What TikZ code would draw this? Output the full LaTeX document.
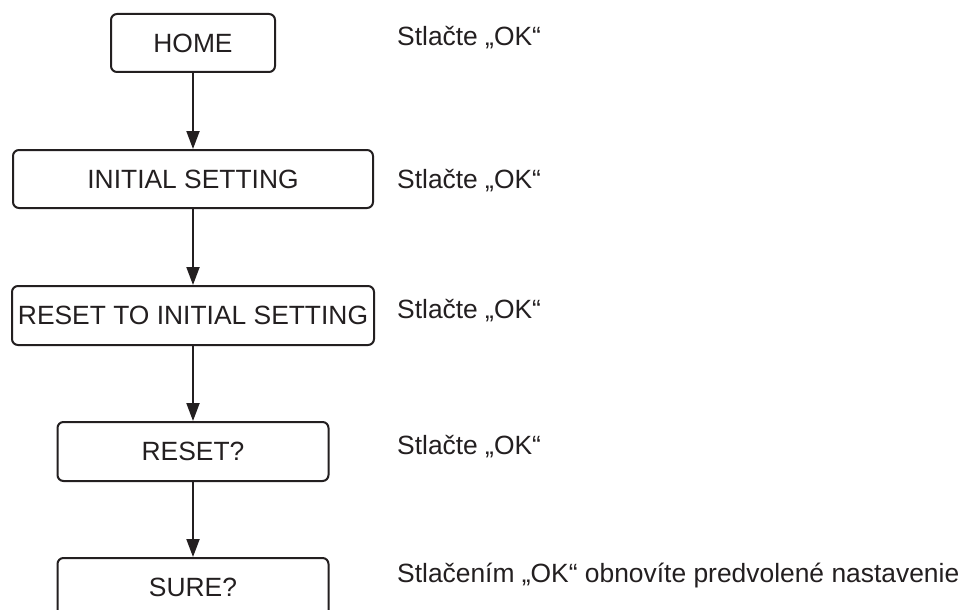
\documentclass[tikz,border=0pt]{standalone}
\usepackage{fontspec}
\setmainfont{Liberation Sans}
\usetikzlibrary{arrows.meta}
\definecolor{ink}{HTML}{231F20}
\tikzset{
  x=1pt, y=-1pt,
  box/.style={draw=ink, line width=2pt, rounded corners=6pt, minimum height=58pt, inner sep=0pt, text=ink, font=\fontsize{26.4}{30}\selectfont},
  note/.style={anchor=west, inner sep=0pt, text=ink, font=\fontsize{26.4}{30}\selectfont},
  flow/.style={draw=ink, line width=2pt, -{Triangle[length=18pt,width=13pt]}}
}
\begin{document}
\begin{tikzpicture}
\useasboundingbox (0,0) rectangle (967,610);
\clip (0,0) rectangle (967,610);
\fill[white] (0,0) rectangle (967,610);
\node[box, minimum width=164pt] (home) at (193,43) {HOME};
\node[box, minimum width=360pt] (init) at (193,179) {INITIAL SETTING};
\node[box, minimum width=362pt, minimum height=59pt] (rti) at (193,315.5) {RESET TO INITIAL SETTING};
\node[box, minimum width=271pt, minimum height=59pt] (reset) at (193,451.5) {RESET?};
\node[box, minimum width=271pt, minimum height=59pt] (sure) at (193,587.5) {SURE?};
\draw[flow] (home) -- (init);
\draw[flow] (init) -- (rti);
\draw[flow] (rti) -- (reset);
\draw[flow] (reset) -- (sure);
\node[note] (t1) at (397,38) {Stlačte „OK“};
\node[note] (t2) at (397,181) {Stlačte „OK“};
\node[note] (t3) at (397,311) {Stlačte „OK“};
\node[note] (t4) at (397,447) {Stlačte „OK“};
\node[note] (t5) at (397,576) {Stlačením „OK“ obnovíte predvolené nastavenie};
\end{tikzpicture}
\end{document}
